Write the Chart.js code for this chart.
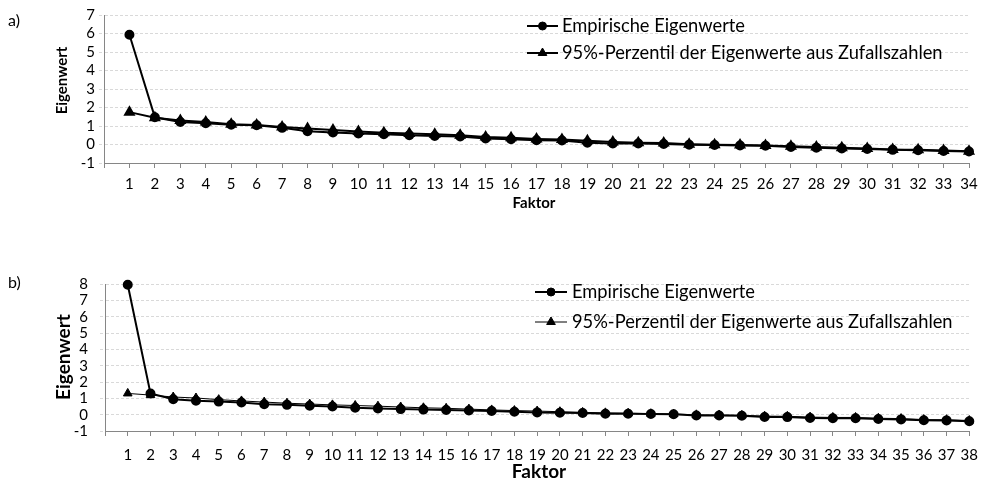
<!DOCTYPE html>
<html>
<head>
<meta charset="utf-8">
<script src="https://cdn.jsdelivr.net/npm/chart.js@4.4.1/dist/chart.umd.min.js"></script>
<style>
  html, body { margin: 0; padding: 0; background: #fff; }
  #wrap { position: relative; width: 988px; height: 482px; }
  canvas { position: absolute; left: 0; }
</style>
</head>
<body>
<div id="wrap">
  <canvas id="chartA" width="988" height="230" style="top:0;width:988px;height:230px"></canvas>
  <canvas id="chartB" width="988" height="252" style="top:230px;width:988px;height:252px"></canvas>
</div>
<script>
// Factor numbers (x categories)
const factorsA = Array.from({ length: 34 }, (_, i) => i + 1);
const factorsB = Array.from({ length: 38 }, (_, i) => i + 1);

// Panel a) eigenvalues
const empiricalA = [5.93, 1.47, 1.22, 1.15, 1.07, 1.04, 0.90, 0.72, 0.65, 0.59, 0.55, 0.50, 0.46, 0.43, 0.33, 0.28, 0.23, 0.22,
  0.10, 0.06, 0.05, 0.03, -0.01, -0.03, -0.05, -0.07, -0.13, -0.17, -0.21, -0.24, -0.29, -0.31, -0.35, -0.38];
const percentileA = [1.75, 1.45, 1.30, 1.22, 1.10, 1.06, 0.95, 0.86, 0.78, 0.70, 0.64, 0.59, 0.55, 0.50, 0.41, 0.36, 0.30, 0.27,
  0.20, 0.14, 0.10, 0.08, 0.02, -0.01, -0.03, -0.05, -0.10, -0.14, -0.18, -0.21, -0.27, -0.29, -0.33, -0.36];

// Panel b) eigenvalues
const empiricalB = [7.95, 1.30, 0.94, 0.85, 0.80, 0.74, 0.64, 0.60, 0.55, 0.50, 0.42, 0.38, 0.34, 0.31, 0.29, 0.25, 0.22, 0.18, 0.14,
  0.12, 0.10, 0.06, 0.06, 0.04, 0.03, -0.05, -0.05, -0.07, -0.14, -0.15, -0.20, -0.22, -0.22, -0.27, -0.29, -0.34, -0.35, -0.40];
const percentileB = [1.30, 1.20, 1.08, 1.02, 0.92, 0.84, 0.77, 0.70, 0.65, 0.60, 0.56, 0.52, 0.47, 0.42, 0.39, 0.34, 0.29, 0.25, 0.22,
  0.18, 0.14, 0.11, 0.09, 0.06, 0.04, -0.01, -0.02, -0.04, -0.09, -0.10, -0.15, -0.17, -0.17, -0.22, -0.24, -0.30, -0.31, -0.36];

// Y axis tick values
const yTicksA = [-1, 0, 1, 2, 3, 4, 5, 6, 7];
const yTicksB = [-1, 0, 1, 2, 3, 4, 5, 6, 7, 8];

const seriesNames = ['Empirische Eigenwerte', '95%-Perzentil der Eigenwerte aus Zufallszahlen'];
const xTitle = 'Faktor';
const yTitle = 'Eigenwert';

const FONT = 'Lato, "Open Sans", sans-serif';
const AXIS_GREY = '#868686';
const GRID_GREY = '#d9d9d9';

function toPoints(xs, ys) {
  return xs.map((x, i) => ({ x: x, y: ys[i] }));
}

// Draws panel letter, axis titles and the in-plot legend
const decorPlugin = {
  id: 'decor',
  afterDraw(chart, args, o) {
    const ctx = chart.ctx;
    ctx.save();
    ctx.fillStyle = '#000';
    ctx.textBaseline = 'middle';

    // panel letter
    ctx.font = `${o.panel.size}px ${FONT}`;
    ctx.textAlign = 'left';
    ctx.fillText(o.panel.text, o.panel.x, o.panel.y);

    // axis titles
    ctx.font = `bold ${o.titleSize}px ${FONT}`;
    ctx.textAlign = 'center';
    ctx.fillText(xTitle, o.xTitle.x, o.xTitle.y);
    ctx.save();
    ctx.translate(o.yTitle.x, o.yTitle.y);
    ctx.rotate(-Math.PI / 2);
    ctx.fillText(yTitle, 0, 0);
    ctx.restore();

    // legend
    const lg = o.legend;
    chart.data.datasets.forEach((ds, i) => {
      const y = lg.rows[i];
      ctx.strokeStyle = ds.borderColor;
      ctx.lineWidth = ds.borderWidth;
      ctx.beginPath();
      ctx.moveTo(lg.x0, y);
      ctx.lineTo(lg.x1, y);
      ctx.stroke();
      ctx.fillStyle = ds.pointBackgroundColor;
      ctx.strokeStyle = ds.pointBorderColor;
      ctx.lineWidth = 1;
      Chart.helpers.drawPoint(ctx, {
        pointStyle: ds.pointStyle, radius: ds.pointRadius, rotation: 0, borderWidth: 1
      }, (lg.x0 + lg.x1) / 2, y);
      ctx.fillStyle = '#000';
      ctx.font = `${lg.size}px ${FONT}`;
      ctx.textAlign = 'left';
      ctx.fillText(ds.label, lg.textX, y);
    });
    ctx.restore();
  }
};

function makeChart(id, factors, emp, perc, yTicks, lay) {
  return new Chart(document.getElementById(id), {
    type: 'line',
    data: {
      datasets: [
        {
          label: seriesNames[0],
          data: toPoints(factors, emp),
          borderColor: '#000', borderWidth: 2,
          pointStyle: 'circle', pointRadius: 4,
          pointBackgroundColor: '#000', pointBorderColor: '#000',
          tension: 0, clip: false
        },
        {
          label: seriesNames[1],
          data: toPoints(factors, perc),
          borderColor: '#000', borderWidth: lay.percLineWidth,
          pointStyle: 'triangle', pointRadius: 5,
          pointBackgroundColor: '#000', pointBorderColor: '#000',
          tension: 0, clip: false
        }
      ]
    },
    options: {
      responsive: false,
      animation: false,
      events: [],
      layout: { padding: { left: 0, top: lay.top, right: lay.right, bottom: 0 } },
      plugins: {
        legend: { display: false },
        tooltip: { enabled: false },
        decor: lay.decor
      },
      scales: {
        x: {
          type: 'linear',
          min: 0,
          max: factors[factors.length - 1],
          afterFit: s => { s.height = lay.xAxisH; },
          ticks: {
            stepSize: 1, autoSkip: false, maxRotation: 0, minRotation: 0,
            padding: lay.xPad, color: '#000',
            font: { family: FONT, size: 15 },
            callback: v => factors.includes(v) ? String(v) : ''
          },
          grid: { drawOnChartArea: false, drawTicks: true, tickLength: 5, color: AXIS_GREY },
          border: { color: AXIS_GREY, width: 1 }
        },
        y: {
          min: yTicks[0],
          max: yTicks[yTicks.length - 1],
          afterFit: s => { s.width = lay.yAxisW; },
          afterBuildTicks: s => { s.ticks = yTicks.map(v => ({ value: v })); },
          ticks: {
            stepSize: 1, autoSkip: false, padding: lay.yPad, color: '#000',
            font: { family: FONT, size: 15 }
          },
          grid: { color: GRID_GREY, drawTicks: true, tickLength: 5, tickColor: GRID_GREY, tickBorderDash: [3, 2] },
          border: { color: AXIS_GREY, width: 1, dash: [3, 2] }
        }
      }
    },
    plugins: [decorPlugin]
  });
}

makeChart('chartA', factorsA, empiricalA, percentileA, yTicksA, {
  top: 15, right: 19, xAxisH: 67, yAxisW: 104, xPad: 7, yPad: 4, percLineWidth: 2,
  decor: {
    panel: { text: 'a)', x: 8, y: 21, size: 16 },
    titleSize: 15,
    xTitle: { x: 534, y: 203 },
    yTitle: { x: 62, y: 80.5 },
    legend: { x0: 527, x1: 558, textX: 562, rows: [26, 53], size: 18.3 }
  }
});

makeChart('chartB', factorsB, empiricalB, percentileB, yTicksB, {
  top: 54, right: 17, xAxisH: 51, yAxisW: 105, xPad: 10, yPad: 12, percLineWidth: 1,
  decor: {
    panel: { text: 'b)', x: 8, y: 53, size: 16 },
    titleSize: 19,
    xTitle: { x: 539, y: 241.5 },
    yTitle: { x: 64, y: 127 },
    legend: { x0: 535, x1: 567, textX: 572, rows: [62, 92], size: 18.3 }
  }
});
</script>
</body>
</html>
